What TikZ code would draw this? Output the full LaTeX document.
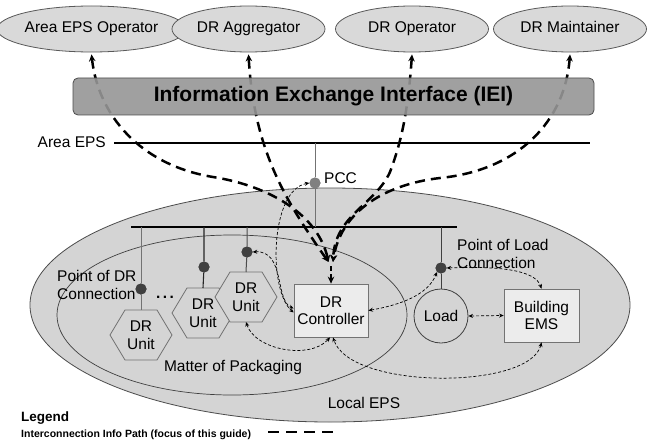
\documentclass[tikz,border=0pt]{standalone}
\usepackage{fontspec}
\setmainfont{Liberation Sans}
\usetikzlibrary{arrows.meta,shapes.geometric,calc}
\definecolor{bgg}{HTML}{D4D4D4}
\definecolor{topg}{HTML}{D9D9D9}
\definecolor{boxg}{HTML}{ECECEC}
\newcommand\drhex[3]{%
  \draw[hexs] (#2-31,#3) -- (#2-16,#3-25) -- (#2+16,#3-25) -- (#2+31,#3) -- (#2+16,#3+25) -- (#2-16,#3+25) -- cycle;
  \node[txt] (#1) at (#2,#3) {DR\\Unit};}
\begin{document}
\begin{tikzpicture}[x=1pt,y=-1pt,
  txt/.style={font=\fontsize{15.5}{17.5}\selectfont, align=center, inner sep=0pt},
  topell/.style={ellipse, draw=black!65, fill=topg, line width=0.8pt, minimum width=153pt, minimum height=46pt, inner sep=0pt, txt, text height=11.5pt, text depth=3.5pt},
  hexs/.style={draw=black!55, fill=bgg, line width=0.8pt},
  dot/.style={circle, fill=black!75, minimum size=11pt, inner sep=0pt},
  pccdot/.style={circle, fill=black!50, minimum size=11pt, inner sep=0pt},
  vline/.style={draw=black!55, line width=0.8pt},
  busline/.style={draw=black, line width=2pt},
  boxs/.style={draw=black!55, fill=boxg, line width=0.8pt, minimum width=74pt, minimum height=53pt, txt},
  thin/.style={draw=black, line width=0.7pt, dash pattern=on 3pt off 2pt, {Stealth[length=4.5pt,width=4pt]}-{Stealth[length=4.5pt,width=4pt]}},
  thick/.style={draw=black, line width=2.5pt, dash pattern=on 10pt off 6pt},
  thickar/.style={thick, {Stealth[length=7pt,width=6.5pt]}-{Stealth[length=7pt,width=6.5pt]}},
]
\useasboundingbox (0,0) rectangle (655,441);
% local EPS and packaging
\node[ellipse, draw=black!70, fill=bgg, line width=0.8pt, minimum width=600pt, minimum height=234pt] (local) at (330,305) {};
\node[ellipse, draw=black!75, line width=0.7pt, minimum width=350pt, minimum height=160pt] (pack) at (232,315) {};
% lines
\coordinate (aeL) at (114,143);
\coordinate (aeR) at (590,143);
\coordinate (busL) at (131,227);
\coordinate (busR) at (457,227);
\draw[busline] (aeL) -- (aeR);
\draw[busline] (busL) -- (busR);
% DR units
\drhex{uA}{141}{335}
\drhex{uB}{203}{313}
\drhex{uC}{246}{297}
% nodes
\node[pccdot] (pcc) at (315,183) {};
\node[dot] (dA) at (141,289) {};
\node[dot] (dB) at (204,267) {};
\node[dot] (dC) at (247,252) {};
\node[boxs] (drc) at (331,310.5) {DR\\Controller};
\node[circle, draw=black!75, fill=bgg, line width=0.8pt, minimum size=54pt, txt] (load) at (441,316) {Load};
\node[boxs, minimum width=75pt] (bems) at (541.5,315.5) {Building\\EMS};
\node[dot] (pol) at (441,268) {};
% vertical lines
\draw[vline] (pcc |- aeL) -- (pcc) -- (pcc |- busL);
\draw[vline] (dA |- busL) -- (dA) -- ($(uA)+(0,-25)$);
\draw[draw=black!85, line width=1.1pt] (dB |- busL) -- (dB) -- ($(uB)+(0,-25)$);
\draw[draw=black!70, line width=1pt] (dC |- busL) -- (dC) -- ($(uC)+(0,-25)$);
\draw[draw=black!75, line width=0.8pt] (pol |- busL) -- (pol) -- (load.north);
\node[pccdot] at (pcc) {};
\node[dot] at (dA) {};
\node[dot] at (dB) {};
\node[dot] at (dC) {};
\node[dot] at (pol) {};
% labels
\node[txt, anchor=east] (lae) at (106,142) {Area EPS};
\node[txt, anchor=west] (lpcc) at (324,178) {PCC};
\node[txt, anchor=west, align=left] (lpdr) at (57,285) {Point of DR\\Connection};
\node[txt, font=\bfseries\fontsize{15.5}{17.5}\selectfont] (ldots) at (165,297) {.\hspace{2.5pt}.\hspace{2.5pt}.};
\node[txt, anchor=west, align=left] (lpol) at (457,254) {Point of Load\\Connection};
\node[txt] (lmp) at (233,367) {Matter of Packaging};
\node[txt] (lle) at (364,403) {Local EPS};
% thin connectors
\draw[thin] (load.east) -- (bems.west);
\draw[thin] (pol.east) .. controls (500,266) and (535,270) .. (bems.north);
\draw[thin] (drc.east) .. controls (400,305) and (428,295) .. (pol.south west);
\draw[thin] (bems.south) .. controls (530,390) and (350,390) .. ([xshift=2pt]drc.south);
\draw[thin] ($(uC)+(0,25)$) .. controls (255,350) and (310,360) .. ([xshift=-1pt]drc.south);
\draw[thin] (dC.east) .. controls (285,250) and (275,300) .. ([yshift=2pt]drc.west);
\draw[thin] (pcc.west) .. controls (270,190) and (268,290) .. ([yshift=-2pt]drc.west);
% top ellipses
\node[topell] (AO) at (91.5,29) {Area EPS Operator};
\node[topell] (AG) at (248.5,29) {DR Aggregator};
\node[topell] (DOp) at (412,29) {DR Operator};
\node[topell] (DM) at (570,29) {DR Maintainer};
% thick paths
\coordinate (cL) at (328.5,262);
\coordinate (cR) at (333,262);
\coordinate (cM) at (331,266);
\draw[thickar] ([yshift=-2pt]AO.south) .. controls (98,115) and (140,165) .. (213,177) .. controls (270,186) and (318,215) .. (cL);
\draw[thickar] ([yshift=-2pt]AG.south) .. controls (254,150) and (285,200) .. (cL);
\draw[thickar] ([yshift=-2pt]DOp.south) .. controls (408,110) and (402,140) .. (390,172) .. controls (375,205) and (335,215) .. (cR);
\draw[thickar] ([yshift=-2pt]DM.south) .. controls (565,120) and (520,170) .. (440,178) .. controls (380,185) and (340,215) .. (cR);
\draw[thick, dash pattern=on 5pt off 3pt, -{Stealth[length=7pt,width=6.5pt]}] (cM) -- (drc.north);
% IEI box
\node[draw=black!70, line width=0.8pt, fill=black!41, fill opacity=0.9, text opacity=1, rounded corners=5pt, minimum width=521pt, minimum height=37pt, inner sep=0pt, font=\bfseries\fontsize{21}{24}\selectfont] (iei) at (333.5,96.5) {Information Exchange Interface (IEI)};
% legend
\node[anchor=west, inner sep=0pt, font=\bfseries\fontsize{13.5}{15}\selectfont] (leg) at (21,418) {Legend};
\node[anchor=west, inner sep=0pt, font=\bfseries\fontsize{10.5}{12}\selectfont] (legt) at (21,435) {Interconnection Info Path (focus of this guide)};
\coordinate (lg1) at (268,432);
\coordinate (lg2) at (334,432);
\draw[thick, dash pattern=on 11pt off 7pt] (lg1) -- (lg2);
\end{tikzpicture}
\end{document}
